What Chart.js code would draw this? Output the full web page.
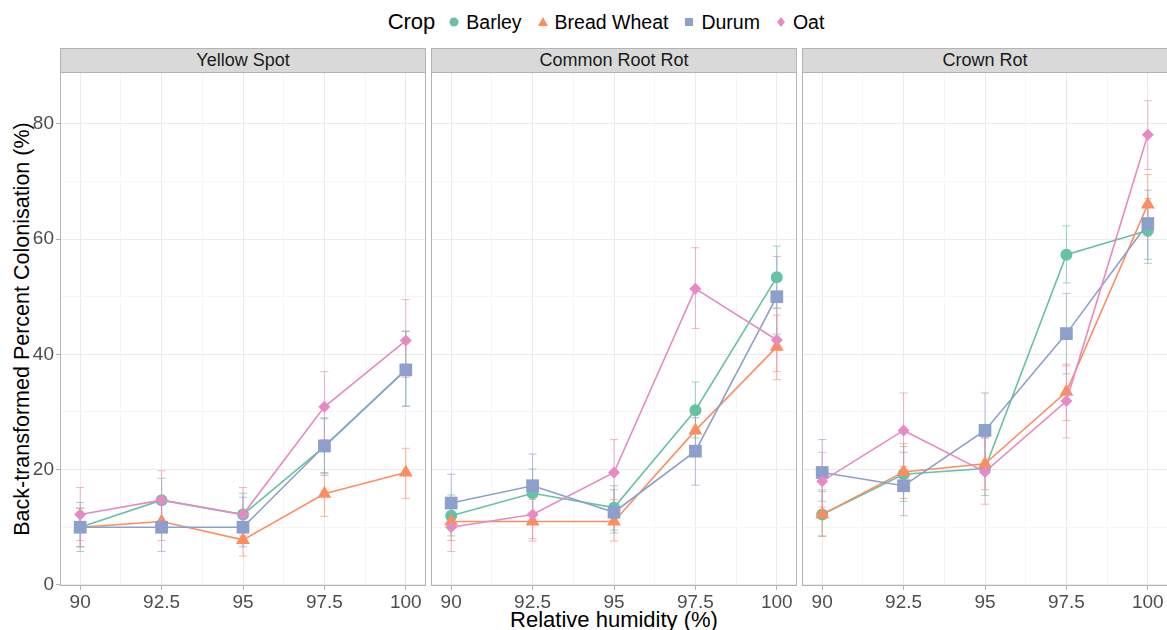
<!DOCTYPE html>
<html>
<head>
<meta charset="utf-8">
<script src="https://cdn.jsdelivr.net/npm/chart.js@4"></script>
<style>
  body { margin: 0; width: 1167px; height: 630px; overflow: hidden; background: #fff;
         font-family: "Liberation Sans", Arial, sans-serif; position: relative; }
  canvas { position: absolute; }
  .strip { position: absolute; top: 48px; height: 23px; background: #D9D9D9; border: 1px solid #B3B3B3;
           font-size: 18px; color: #1A1A1A; text-align: center; line-height: 23px; box-sizing: content-box; }
  #legend { position: absolute; top: 7px; left: 60px; width: 1108px; display: flex; justify-content: center;
            align-items: center; height: 30px; }
  #legend .title { font-size: 22px; margin-right: 14px; }
  #legend .item { display: flex; align-items: center; font-size: 19.5px; margin-right: 16px; }
  #legend svg { margin-right: 7px; }
  #ytitle { position: absolute; left: 22px; top: 329px; transform: translate(-50%, -50%) rotate(-90deg);
            white-space: nowrap; font-size: 21.5px; }
  #xtitle { position: absolute; left: 614px; top: 607px; transform: translateX(-50%); font-size: 22px; white-space: nowrap; }
</style>
</head>
<body>
<div id="legend"></div>
<div id="ytitle">Back-transformed Percent Colonisation (%)</div>
<div id="xtitle">Relative humidity (%)</div>
<script>
const humidity = [90, 92.5, 95, 97.5, 100];
const crops = ['Barley', 'Bread Wheat', 'Durum', 'Oat'];
const diseases = ['Yellow Spot', 'Common Root Rot', 'Crown Rot'];
const xTickLabels = ['90', '92.5', '95', '97.5', '100'];
const yTickLabels = ['0', '20', '40', '60', '80'];

// Yellow Spot
const ysBarley = [10.0, 14.7, 12.2, 24.0, 37.3];
const ysBarleyLo = [5.8, 10.5, 8.0, 19.5, 31.0];
const ysBarleyHi = [14.3, 18.5, 15.9, 28.8, 44.0];
const ysWheat = [10.0, 11.0, 7.8, 15.8, 19.5];
const ysWheatLo = [6.6, 7.7, 5.0, 11.9, 15.0];
const ysWheatHi = [13.3, 15.0, 11.0, 19.3, 23.7];
const ysDurum = [10.0, 10.0, 10.0, 24.1, 37.3];
const ysDurumLo = [6.6, 5.8, 6.6, 19.0, 31.0];
const ysDurumHi = [13.3, 14.0, 15.2, 29.0, 44.0];
const ysOat = [12.2, 14.7, 12.2, 30.9, 42.4];
const ysOatLo = [7.7, 10.0, 8.5, 25.2, 36.0];
const ysOatHi = [16.9, 19.8, 16.9, 37.0, 49.5];

// Common Root Rot
const crrBarley = [12.0, 15.9, 13.4, 30.3, 53.4];
const crrBarleyLo = [8.5, 12.0, 9.5, 25.5, 48.0];
const crrBarleyHi = [15.6, 20.1, 17.2, 35.2, 58.8];
const crrWheat = [11.0, 11.0, 11.0, 26.8, 41.3];
const crrWheatLo = [7.7, 7.6, 7.6, 22.5, 35.6];
const crrWheatHi = [14.8, 14.8, 14.8, 31.0, 46.8];
const crrDurum = [14.2, 17.2, 12.6, 23.2, 50.0];
const crrDurumLo = [10.0, 12.5, 9.0, 17.3, 43.5];
const crrDurumHi = [19.2, 22.7, 16.5, 29.0, 57.0];
const crrOat = [10.0, 12.2, 19.5, 51.4, 42.5];
const crrOatLo = [5.8, 8.0, 14.0, 44.5, 37.0];
const crrOatHi = [14.5, 16.5, 25.2, 58.5, 48.0];

// Crown Rot
const crBarley = [12.2, 19.2, 20.2, 57.3, 61.5];
const crBarleyLo = [8.5, 14.5, 15.5, 52.4, 55.8];
const crBarleyHi = [16.5, 24.0, 25.5, 62.3, 67.0];
const crWheat = [12.2, 19.6, 21.0, 33.5, 66.0];
const crWheatLo = [8.4, 15.0, 16.5, 28.5, 60.5];
const crWheatHi = [16.2, 24.5, 25.8, 38.3, 71.2];
const crDurum = [19.5, 17.2, 26.8, 43.6, 62.7];
const crDurumLo = [14.5, 12.0, 21.0, 36.6, 56.5];
const crDurumHi = [25.2, 23.0, 33.3, 50.6, 68.5];
const crOat = [18.0, 26.8, 19.6, 31.9, 78.1];
const crOatLo = [13.5, 20.5, 14.0, 25.5, 72.1];
const crOatHi = [23.0, 33.3, 25.5, 38.0, 84.0];

const colors = ['#66C2A5', '#FC8D62', '#8DA0CB', '#E78AC3'];
const shapes = ['circle', 'triangle', 'rect', 'rectRot'];
const radii = [6, 8, 9, 6];

const panels = [
  { vals: [ysBarley, ysWheat, ysDurum, ysOat], lo: [ysBarleyLo, ysWheatLo, ysDurumLo, ysOatLo], hi: [ysBarleyHi, ysWheatHi, ysDurumHi, ysOatHi] },
  { vals: [crrBarley, crrWheat, crrDurum, crrOat], lo: [crrBarleyLo, crrWheatLo, crrDurumLo, crrOatLo], hi: [crrBarleyHi, crrWheatHi, crrDurumHi, crrOatHi] },
  { vals: [crBarley, crWheat, crDurum, crOat], lo: [crBarleyLo, crWheatLo, crDurumLo, crOatLo], hi: [crBarleyHi, crWheatHi, crDurumHi, crOatHi] }
];

const panelLefts = [60, 431, 802];
const panelW = 366, panelTop = 72, panelH = 514;
const yAxisW = 45, xAxisH = 32;

function alpha(hex, a) {
  const n = parseInt(hex.slice(1), 16);
  return `rgba(${n >> 16},${(n >> 8) & 255},${n & 255},${a})`;
}

// legend
const legend = document.getElementById('legend');
legend.innerHTML = '<span class="title">Crop</span>';
const svgShapes = [
  c => `<circle cx="5" cy="6" r="4.5" fill="${c}"/>`,
  c => `<polygon points="5,1 10,10 0,10" fill="${c}"/>`,
  c => `<rect x="1" y="2" width="8" height="8" fill="${c}"/>`,
  c => `<polygon points="5,1 9,6 5,11 1,6" fill="${c}"/>`
];
crops.forEach((name, i) => {
  const it = document.createElement('span');
  it.className = 'item';
  it.innerHTML = `<svg width="10" height="12">${svgShapes[i](colors[i])}</svg>${name}`;
  legend.appendChild(it);
});

const errorBars = {
  id: 'errorBars',
  beforeDatasetsDraw(chart) {
    const ctx = chart.ctx, xs = chart.scales.x, ys = chart.scales.y;
    ctx.save();
    chart.data.datasets.forEach(ds => {
      ctx.strokeStyle = alpha(ds.borderColor, 0.65);
      ctx.lineWidth = 1;
      ds.data.forEach((p, j) => {
        const x = xs.getPixelForValue(p.x);
        const y1 = ys.getPixelForValue(ds.lo[j]);
        const y2 = ys.getPixelForValue(ds.hi[j]);
        ctx.beginPath();
        ctx.moveTo(x, y1); ctx.lineTo(x, y2);
        ctx.moveTo(x - 4, y1); ctx.lineTo(x + 4, y1);
        ctx.moveTo(x - 4, y2); ctx.lineTo(x + 4, y2);
        ctx.stroke();
      });
    });
    ctx.restore();
  }
};

const panelBorder = {
  id: 'panelBorder',
  afterDraw(chart) {
    const a = chart.chartArea, ctx = chart.ctx;
    ctx.save();
    ctx.strokeStyle = '#B3B3B3';
    ctx.lineWidth = 1;
    ctx.strokeRect(a.left + 0.5, a.top + 0.5, a.right - a.left - 1, a.bottom - a.top - 1);
    ctx.restore();
  }
};

const xTicks = [90, 91.25, 92.5, 93.75, 95, 96.25, 97.5, 98.75, 100];
const yTicks = [0, 10, 20, 30, 40, 50, 60, 70, 80];
const tickFont = { size: 19, family: '"Liberation Sans", Arial' };

panels.forEach((panel, p) => {
  const strip = document.createElement('div');
  strip.className = 'strip';
  strip.style.left = (panelLefts[p]) + 'px';
  strip.style.width = (panelW - 2) + 'px';
  strip.textContent = diseases[p];
  document.body.appendChild(strip);

  const canvas = document.createElement('canvas');
  canvas.width = yAxisW + panelW;
  canvas.height = panelH + xAxisH;
  canvas.style.left = (panelLefts[p] - yAxisW) + 'px';
  canvas.style.top = panelTop + 'px';
  document.body.appendChild(canvas);

  const datasets = crops.map((name, i) => ({
    label: name,
    data: humidity.map((h, j) => ({ x: h, y: panel.vals[i][j] })),
    lo: panel.lo[i],
    hi: panel.hi[i],
    borderColor: colors[i],
    backgroundColor: colors[i],
    borderWidth: 1.6,
    pointStyle: shapes[i],
    pointRadius: radii[i],
    pointBorderWidth: 0,
    showLine: true,
    order: 3 - i
  }));

  new Chart(canvas, {
    type: 'scatter',
    data: { datasets },
    plugins: [errorBars, panelBorder],
    options: {
      responsive: false,
      animation: false,
      devicePixelRatio: 1,
      layout: { padding: 0, autoPadding: false },
      plugins: { legend: { display: false }, tooltip: { enabled: false } },
      scales: {
        x: {
          type: 'linear', min: 89.38, max: 100.62,
          afterBuildTicks: s => { s.ticks = xTicks.map(v => ({ value: v })); },
          afterFit: s => { s.height = xAxisH; s.paddingLeft = 0; s.paddingRight = 0; },
          border: { display: false },
          grid: {
            color: c => (c.tick && xTicks.indexOf(c.tick.value) % 2 === 0) ? '#EBEBEB' : '#F6F6F6',
            tickColor: c => (c.tick && xTicks.indexOf(c.tick.value) % 2 === 0) ? '#B3B3B3' : 'rgba(0,0,0,0)',
            tickLength: 4
          },
          ticks: {
            padding: 1, color: '#4D4D4D', font: tickFont,
            maxRotation: 0, autoSkip: false,
            callback: v => { const k = humidity.indexOf(v); return k >= 0 ? xTickLabels[k] : ''; }
          }
        },
        y: {
          type: 'linear', min: -0.2, max: 89,
          afterBuildTicks: s => { s.ticks = yTicks.map(v => ({ value: v })); },
          afterFit: s => { s.width = yAxisW; s.paddingTop = 0; s.paddingBottom = 0; },
          border: { display: false },
          grid: {
            color: c => (c.tick && c.tick.value % 20 === 0) ? '#EBEBEB' : '#F6F6F6',
            tickColor: c => (c.tick && c.tick.value % 20 === 0) ? '#B3B3B3' : 'rgba(0,0,0,0)',
            drawTicks: p === 0,
            tickLength: 4
          },
          ticks: {
            display: p === 0, padding: 2, color: '#4D4D4D', font: tickFont,
            autoSkip: false,
            callback: v => (v % 20 === 0) ? yTickLabels[v / 20] : ''
          }
        }
      }
    }
  });
});
</script>
</body>
</html>
